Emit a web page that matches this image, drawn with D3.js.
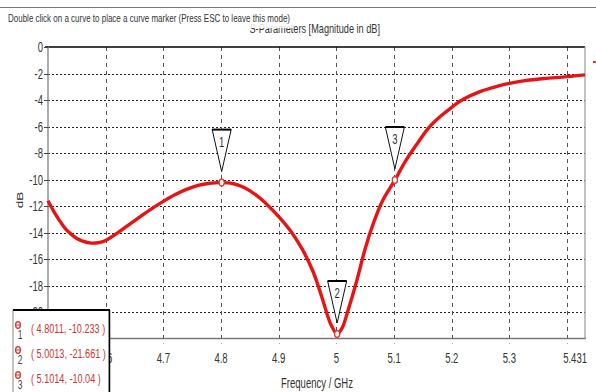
<!DOCTYPE html>
<html><head><meta charset="utf-8">
<script src="https://cdn.jsdelivr.net/npm/d3@7"></script>
<style>
html,body{margin:0;padding:0;background:#fff;}
svg text{font-family:Arial,"Liberation Sans",sans-serif;}
</style></head>
<body><svg id="c" width="596" height="392"></svg>
<script>
// ---- data ----
const freq = [4.50,4.51,4.52,4.53,4.54,4.55,4.56,4.575,4.59,4.60,4.62,4.64,4.66,4.68,4.70,4.72,4.74,4.76,4.78,4.8011,4.82,4.84,4.86,4.88,4.90,4.92,4.94,4.96,4.975,4.99,5.0013,5.01,5.02,5.035,5.05,5.065,5.08,5.1014,5.12,5.14,5.16,5.18,5.20,5.22,5.25,5.28,5.30,5.33,5.36,5.40,5.431];
const s11 = [-11.6,-12.4,-13.1,-13.7,-14.12,-14.45,-14.65,-14.8,-14.74,-14.6,-14.05,-13.42,-12.8,-12.2,-11.65,-11.15,-10.75,-10.45,-10.28,-10.233,-10.3,-10.6,-11.15,-11.9,-12.8,-13.85,-15.2,-17.0,-18.9,-20.9,-21.661,-21.2,-19.9,-17.7,-15.2,-13.2,-11.6,-10.04,-8.6,-7.3,-6.1,-5.25,-4.55,-3.95,-3.35,-2.95,-2.75,-2.52,-2.38,-2.24,-2.1];
const markerFreq = [4.8011, 5.0013, 5.1014];
const markerDb = [-10.233, -21.661, -10.04];
const markerIds = ["1","2","3"];
const markerTexts = ["( 4.8011, -10.233 )","( 5.0013, -21.661 )","( 5.1014, -10.04 )"];
const xGridTicks = [4.6,4.7,4.8,4.9,5.0,5.1,5.2,5.3,5.4];
const xTickLabels = ["4.6","4.7","4.8","4.9","5","5.1","5.2","5.3",""];
const xEndLabel = "5.431";
const yTicks = [0,-2,-4,-6,-8,-10,-12,-14,-16,-18,-20];
const yTickLabels = ["0","-2","-4","-6","-8","-10","-12","-14","-16","-18","-20"];
const titleText = "S-Parameters [Magnitude in dB]";
const hintText = "Double click on a curve to place a curve marker (Press ESC to leave this mode)";
const xLabel = "Frequency / GHz";
const yLabel = "dB";

// ---- drawing ----
const svg = d3.select("#c");
const x = d3.scaleLinear().domain([4.5, 5.431]).range([48, 585]);
const y = d3.scaleLinear().domain([0, -22]).range([47, 338.5]);
const SX = 0.68;
function txt(g, s, px, py, size, anchor, color, sx) {
  return g.append("text").attr("transform", `translate(${px},${py}) scale(${sx||SX},1)`)
    .attr("text-anchor", anchor).attr("font-size", size).attr("fill", color).text(s);
}

// top separator line
svg.append("line").attr("x1",0).attr("x2",596).attr("y1",7.5).attr("y2",7.5).attr("stroke","#777").attr("stroke-width",1);

// title (partially hidden by hint)
txt(svg, titleText, 380, 33, 13.5, "end", "#333");

// grid
const grid = svg.append("g");
grid.selectAll("line.h").data(yTicks.slice(1)).join("line")
  .attr("x1", x(4.5)).attr("x2", x(5.431)).attr("y1", d=>Math.round(y(d))+0.5).attr("y2", d=>Math.round(y(d))+0.5)
  .attr("stroke","#222").attr("stroke-width",1).attr("stroke-dasharray","2,2");
grid.selectAll("line.v").data(xGridTicks).join("line")
  .attr("x1", d=>Math.round(x(d))+0.5).attr("x2", d=>Math.round(x(d))+0.5).attr("y1", y(0)).attr("y2", y(-22)+5)
  .attr("stroke","#555").attr("stroke-width",1).attr("stroke-dasharray","4,4");

// frame
svg.append("line").attr("x1",x(4.5)-3).attr("x2",x(5.431)).attr("y1",y(0)).attr("y2",y(0)).attr("stroke","#000").attr("stroke-width",1.6);
svg.append("line").attr("x1",x(4.5)).attr("x2",x(4.5)).attr("y1",y(0)).attr("y2",y(-22)).attr("stroke","#888").attr("stroke-width",1.4);
svg.append("line").attr("x1",x(4.5)).attr("x2",x(5.431)+1).attr("y1",y(-22)).attr("y2",y(-22)).attr("stroke","#777").attr("stroke-width",1.6);
svg.append("line").attr("x1",x(5.431)).attr("x2",x(5.431)).attr("y1",y(0)).attr("y2",y(-22)).attr("stroke","#999").attr("stroke-width",1.2);

// y ticks & labels
svg.selectAll("line.yt").data(yTicks).join("line")
  .attr("x1", x(4.5)-4).attr("x2", x(4.5)).attr("y1", d=>Math.round(y(d))+0.5).attr("y2", d=>Math.round(y(d))+0.5)
  .attr("stroke","#444");
yTicks.forEach((t,i)=> txt(svg, yTickLabels[i], 43, y(t)+5, 14, "end", "#333"));
// x labels
xGridTicks.forEach((t,i)=> { if (xTickLabels[i]) txt(svg, xTickLabels[i], x(t), 363, 14, "middle", "#333"); });
txt(svg, xEndLabel, x(5.431)+2, 363, 14, "end", "#333");
txt(svg, xLabel, 317, 388, 14, "middle", "#333");
svg.append("text").attr("transform", `translate(23,200) rotate(-90) scale(1,${SX})`)
  .attr("text-anchor","middle").attr("font-size",13.5).attr("fill","#333").text(yLabel);

// curve
const pts = freq.map((f,i)=>[f, s11[i]]);
const line = d3.line().x(d=>x(d[0])).y(d=>y(d[1])).curve(d3.curveCatmullRom.alpha(0.5));
svg.append("path").datum(pts).attr("d", line).attr("fill","none").attr("stroke","#e81414").attr("stroke-width",3.4).attr("stroke-linejoin","round");
svg.append("line").attr("x1",593).attr("x2",596).attr("y1",62).attr("y2",62).attr("stroke","#e33").attr("stroke-width",2);

// markers
markerFreq.forEach((f,i)=>{
  const mx = x(f), my = y(markerDb[i]);
  const g = svg.append("g");
  g.append("path").attr("d", `M${mx-9.5},${my-53} L${mx+9.5},${my-53} L${mx},${my-11} Z`)
    .attr("fill","#fff").attr("stroke","#111").attr("stroke-width",1);
  g.append("line").attr("x1",mx-9.5).attr("x2",mx+9.5).attr("y1",my-53).attr("y2",my-53).attr("stroke","#000").attr("stroke-width",2);
  txt(g, markerIds[i], mx, my-36, 14, "middle", "#333");
  g.append("ellipse").attr("cx",mx).attr("cy",my).attr("rx",2.6).attr("ry",3.4).attr("fill","#fff").attr("stroke","#d33").attr("stroke-width",1.3);
});

// legend box
const lg = svg.append("g");
lg.append("rect").attr("x",13).attr("y",310).attr("width",96).attr("height",90).attr("fill","#fff").attr("stroke","#888").attr("stroke-width",1);
lg.append("line").attr("x1",13).attr("x2",110).attr("y1",310).attr("y2",310).attr("stroke","#000").attr("stroke-width",2);
lg.append("line").attr("x1",109.5).attr("x2",109.5).attr("y1",310).attr("y2",392).attr("stroke","#000").attr("stroke-width",1.5);
markerTexts.forEach((s,i)=>{
  const ry = 329 + i*25;
  lg.append("ellipse").attr("cx",18).attr("cy",ry-4).attr("rx",2.4).attr("ry",3.3).attr("fill","#fff").attr("stroke","#d33").attr("stroke-width",1.3);
  lg.append("line").attr("x1",15.5).attr("x2",20.5).attr("y1",ry-4).attr("y2",ry-4).attr("stroke","#d33").attr("stroke-width",1);
  txt(lg, markerIds[i], 20, ry+10, 12.5, "middle", "#444");
  txt(lg, s, 31, ry+4, 13, "start", "#cc3333", 0.7);
});

// hint overlay
svg.append("rect").attr("x",0).attr("y",9).attr("width",293).attr("height",19).attr("fill","#fff").attr("opacity",0.85);
svg.append("text").attr("x",8).attr("y",22).attr("font-size",11.5).attr("fill","#333")
  .attr("textLength",282).attr("lengthAdjust","spacingAndGlyphs").text(hintText);
</script></body></html>
